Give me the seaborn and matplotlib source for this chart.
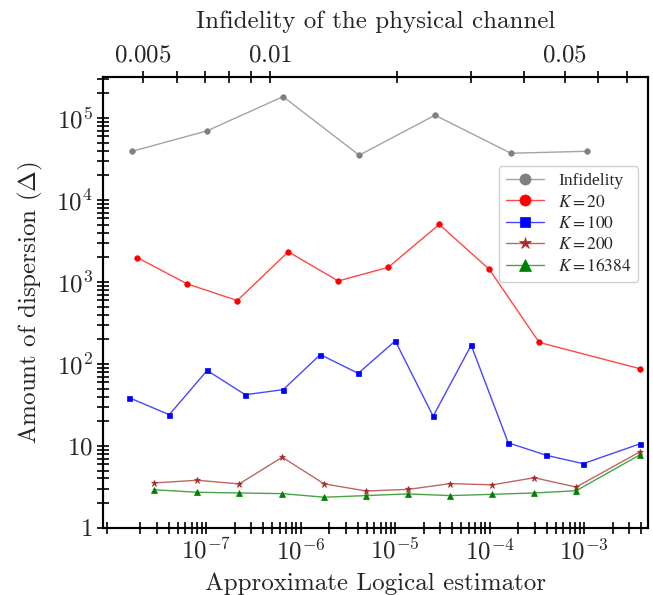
import numpy as np
import matplotlib
matplotlib.use("Agg")
import matplotlib.pyplot as plt
import seaborn as sns
from matplotlib.ticker import LogLocator, FixedLocator, FuncFormatter, NullFormatter, FixedFormatter
from matplotlib.font_manager import FontProperties

# Infidelity of the physical channel (top axis) vs dispersion
infid_x = [0.00471, 0.00709, 0.01073, 0.01626, 0.0246, 0.0372, 0.0564]
infid_y = [39400, 70000, 183000, 35300, 108600, 37300, 39400]

# Approximate logical estimator (bottom axis) vs dispersion
k20_x = [1.86e-8, 6.3e-8, 2.13e-7, 7.38e-7, 2.49e-6, 8.43e-6, 2.92e-5, 9.9e-5, 3.34e-4, 3.92e-3]
k20_y = [1985, 946, 594, 2340, 1028, 1510, 5040, 1428, 183, 87.2]

k100_x = [1.53e-8, 4.06e-8, 1.02e-7, 2.59e-7, 6.53e-7, 1.61e-6, 4.06e-6, 1.0e-5,
          2.52e-5, 6.37e-5, 1.57e-4, 3.96e-4, 9.75e-4, 3.92e-3]
k100_y = [38.6, 24.0, 83.2, 42.0, 48.6, 130, 76.7, 191, 23.0, 169, 10.9, 7.67, 6.06, 10.6]

k200_x = [2.82e-8, 8.03e-8, 2.23e-7, 6.37e-7, 1.77e-6, 4.93e-6, 1.37e-5, 3.82e-5,
          1.06e-4, 2.96e-4, 8.22e-4, 3.92e-3]
k200_y = [3.53, 3.80, 3.43, 7.26, 3.43, 2.81, 2.94, 3.46, 3.34, 4.08, 3.14, 8.49]

k16384_x = k200_x
k16384_y = [2.91, 2.71, 2.66, 2.61, 2.36, 2.47, 2.59, 2.47, 2.56, 2.66, 2.83, 7.81]

top_ticks = [0.005, 0.01, 0.05]
top_labels = ["$0.005$", "$0.01$", "$0.05$"]

sns.set_style("ticks")
plt.rcParams["font.family"] = ["cmr10", "DejaVu Serif"]
plt.rcParams["mathtext.fontset"] = "cm"
plt.rcParams["axes.formatter.use_mathtext"] = True

fig = plt.figure(figsize=(6.53, 5.95), dpi=100)
ax = fig.add_axes([0.158, 0.113, 0.8345, 0.758])
ax.set_xscale("log")
ax.set_yscale("log")


def draw(axis, x, y, color, marker, ms, label):
    sns.lineplot(x=x, y=y, ax=axis, color=color, marker=marker, markersize=ms,
                 markeredgecolor=color, markerfacecolor=color, markeredgewidth=0.5,
                 linewidth=1.0, label=label, sort=False)
    line = axis.lines[-1]
    line.set_color(matplotlib.colors.to_rgba(color, 0.72))
    line.set_markerfacecolor(color)
    line.set_markeredgecolor(color)


draw(ax, k20_x, k20_y, "red", "o", 4, "$K=20$")
draw(ax, k100_x, k100_y, "blue", "s", 3.6, "$K=100$")
draw(ax, k200_x, k200_y, "brown", "*", 4.5, "$K=200$")
draw(ax, k16384_x, k16384_y, "green", "^", 4, "$K=16384$")
if ax.get_legend() is not None:
    ax.get_legend().remove()

ax_top = ax.twiny()
draw(ax_top, infid_x, infid_y, "gray", "o", 4, "Infidelity")
if ax_top.get_legend() is not None:
    ax_top.get_legend().remove()

# bottom axis
ax.set_xlim(8.1e-9, 4.75e-3)
ax.xaxis.set_major_locator(FixedLocator([1e-7, 1e-6, 1e-5, 1e-4, 1e-3]))
ax.xaxis.set_minor_locator(LogLocator(base=10, subs=np.arange(2, 10), numticks=20))
ax.xaxis.set_minor_formatter(NullFormatter())

# y axis
ax.set_ylim(1, 3.2e5)
ax.yaxis.set_major_locator(LogLocator(base=10, numticks=12))
ax.yaxis.set_minor_locator(LogLocator(base=10, subs=np.arange(2, 10), numticks=12))
ax.yaxis.set_minor_formatter(NullFormatter())


def yfmt(v, pos):
    n = int(round(np.log10(v)))
    if n == 0:
        return "$1$"
    if n == 1:
        return "$10$"
    return "$10^{%d}$" % n


ax.yaxis.set_major_formatter(FuncFormatter(yfmt))

# top axis
ax_top.set_xscale("log")
ax_top.set_xlim(0.00402, 0.0787)
ax_top.xaxis.set_major_locator(FixedLocator(top_ticks))
ax_top.xaxis.set_major_formatter(FixedFormatter(top_labels))
ax_top.xaxis.set_minor_locator(LogLocator(base=10, subs=np.arange(2, 10), numticks=20))
ax_top.xaxis.set_minor_formatter(NullFormatter())

for a in (ax, ax_top):
    a.tick_params(which="both", direction="inout", length=8, width=1.2,
                  labelsize=18, color="black")
    for s in a.spines.values():
        s.set_linewidth(1.5)
        s.set_color("black")
        s.set_visible(True)
ax.tick_params(which="both", top=False, right=False)

ax.set_xlabel("Approximate Logical estimator", fontsize=18, labelpad=6)
ax.set_ylabel("Amount of dispersion ($\\Delta$)", fontsize=18, labelpad=8)
ax_top.set_xlabel("Infidelity of the physical channel", fontsize=18, labelpad=12)
ax_top.set_ylabel("")

h1, l1 = ax_top.get_legend_handles_labels()
h2, l2 = ax.get_legend_handles_labels()
leg = ax_top.legend(h1 + h2, l1 + l2, loc="upper right", bbox_to_anchor=(0.982, 0.802),
                    prop=FontProperties(family="Liberation Serif", math_fontfamily="stix", size=12.5),
                    markerscale=2.0, labelspacing=0.3, handlelength=2.2, handletextpad=0.8,
                    borderaxespad=0, frameon=True, fancybox=True, framealpha=0.9,
                    edgecolor="#cccccc", shadow=False)

fig.savefig("out.png", dpi=100)
